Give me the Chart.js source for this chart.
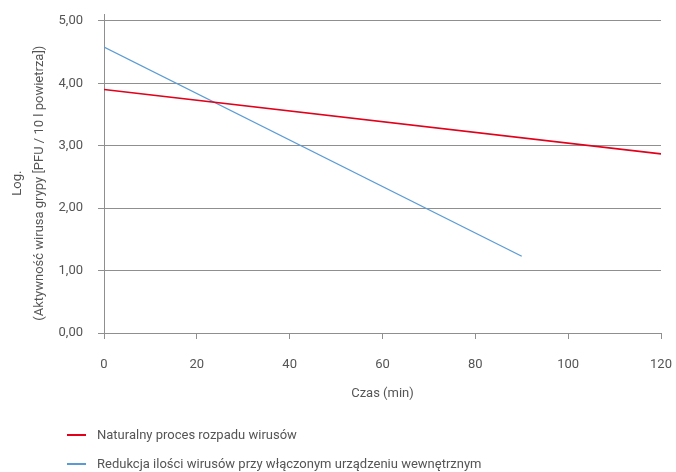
<!DOCTYPE html>
<html><head><meta charset="utf-8">
<script src="https://cdn.jsdelivr.net/npm/chart.js@4"></script>
<style>
html,body{margin:0;padding:0;background:#fff;}
#wrap{position:relative;width:676px;height:472px;overflow:hidden;}
canvas{position:absolute;left:0;top:0;}
.leg{position:absolute;left:67px;font:13px Roboto, "Liberation Sans", sans-serif;color:#555;white-space:nowrap;}
.leg i{display:inline-block;width:19px;height:2px;vertical-align:middle;margin-right:11px;position:relative;top:-1px;}
</style></head>
<body><div id="wrap"><canvas id="c" width="676" height="472"></canvas>
<div id="legend"></div></div>
<script>
const seriesNames = ["Naturalny proces rozpadu wirusów", "Redukcja ilości wirusów przy włączonym urządzeniu wewnętrznym"];
const seriesColors = ["#e2001a", "#5b9bd5"];
const naturalX = [0, 120];
const naturalY = [3.90, 2.87];
const reductionX = [0, 90];
const reductionY = [4.58, 1.23];
const xTicks = [0, 20, 40, 60, 80, 100, 120];
const yTicks = [0, 1, 2, 3, 4, 5];
const yTitle = ['Log.', '(Aktywność wirusa grypy [PFU / 10 l powietrza])'];

const toPts = (xs, ys) => xs.map((x, i) => ({x, y: ys[i]}));
const font = {family: "Roboto, 'Liberation Sans', sans-serif", size: 13};
const grey = "#8f8f8f";
const pad = '\u00a0'.repeat(6);

new Chart(document.getElementById('c'), {
  type: 'line',
  data: {datasets: [
    {label: seriesNames[0], data: toPts(naturalX, naturalY), borderColor: seriesColors[0], borderWidth: 1.6, pointRadius: 0, tension: 0},
    {label: seriesNames[1], data: toPts(reductionX, reductionY), borderColor: seriesColors[1], borderWidth: 1.3, pointRadius: 0, tension: 0}
  ]},
  options: {
    responsive: false, animation: false, devicePixelRatio: 1,
    layout: {padding: {top: 14, right: 15, bottom: 69, left: 0}},
    plugins: {legend: {display: false}, tooltip: {enabled: false}},
    scales: {
      x: {type: 'linear', min: 0, max: 120,
        afterBuildTicks: s => { s.ticks = xTicks.map(v => ({value: v})); },
        afterFit: s => { s.height = 70; s.paddingLeft = 0; s.paddingRight = 0; },
        grid: {display: true, drawOnChartArea: false, drawTicks: true, tickLength: 6, color: grey},
        border: {color: grey, width: 1},
        ticks: {font, color: '#555', padding: 18, maxRotation: 0, callback: v => String(v)},
        title: {display: true, text: 'Czas (min)', font, color: '#555', padding: {top: 4, bottom: 1}}
      },
      y: {type: 'linear', min: 0, max: 5.11,
        afterBuildTicks: s => { s.ticks = yTicks.map(v => ({value: v})); },
        afterFit: s => { s.width = 104; s.paddingTop = 0; s.paddingBottom = 0; },
        grid: {color: grey, tickLength: 6, drawTicks: true},
        border: {color: grey, width: 1},
        ticks: {font, color: '#555', padding: 15, callback: v => v.toFixed(2).replace('.', ',')},
        title: {display: true, text: yTitle.map(t => t + pad), font: {...font, lineHeight: 1.7}, color: '#555', padding: {top: 7, bottom: 0}}
      }
    }
  }
});

const leg = document.getElementById('legend');
const legTops = [427, 456];
seriesNames.forEach((n, i) => {
  const d = document.createElement('div');
  d.className = 'leg';
  d.style.top = legTops[i] + 'px';
  d.innerHTML = '<i style="background:' + seriesColors[i] + '"></i>' + n;
  leg.appendChild(d);
});
</script></body></html>
